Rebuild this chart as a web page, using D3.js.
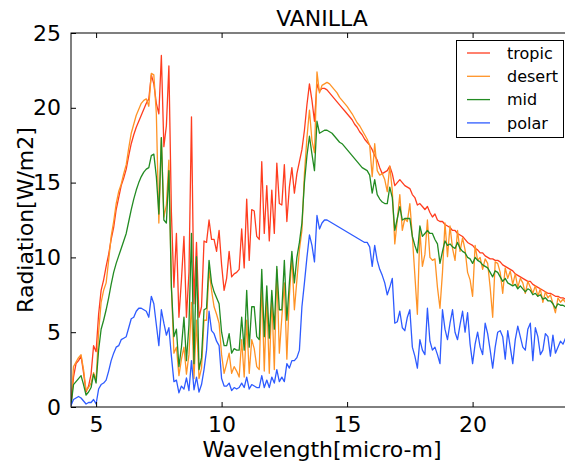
<!DOCTYPE html>
<html>
<head>
<meta charset="utf-8">
<script src="https://cdn.jsdelivr.net/npm/d3@7/dist/d3.min.js"></script>
<style>
  html, body { margin: 0; padding: 0; background: #fff; }
  svg { display: block; font-family: "DejaVu Sans", sans-serif; }
</style>
</head>
<body>
<svg id="chart" width="565" height="465"></svg>
<script>
// Spectral grid (micro-m)
const wavelength = [
  4.0,4.1,4.2,4.3,4.4,4.5,4.6,4.7,4.8,4.9,
  5.0,5.1,5.2,5.3,5.4,5.5,5.6,5.7,5.8,5.9,
  6.0,6.1,6.2,6.3,6.4,6.5,6.6,6.7,6.8,6.9,
  7.0,7.1,7.2,7.3,7.4,7.5,7.6,7.7,7.8,7.9,
  8.0,8.1,8.2,8.3,8.4,8.5,8.6,8.7,8.8,8.9,
  9.0,9.1,9.2,9.3,9.4,9.5,9.6,9.7,9.8,9.9,
  10.0,10.1,10.2,10.3,10.4,10.5,10.6,10.7,10.8,10.9,
  11.0,11.1,11.2,11.3,11.4,11.5,11.6,11.7,11.8,11.9,
  12.0,12.1,12.2,12.3,12.4,12.5,12.6,12.7,12.8,12.9,
  13.0,13.1,13.2,13.3,13.4,13.5,13.6,13.7,13.8,13.9,
  14.0,14.1,14.2,14.3,14.4,14.5,14.6,14.7,14.8,14.9,
  15.0,15.1,15.2,15.3,15.4,15.5,15.6,15.7,15.8,15.9,
  16.0,16.1,16.2,16.3,16.4,16.5,16.6,16.7,16.8,16.9,
  17.0,17.1,17.2,17.3,17.4,17.5,17.6,17.7,17.8,17.9,
  18.0,18.1,18.2,18.3,18.4,18.5,18.6,18.7,18.8,18.9,
  19.0,19.1,19.2,19.3,19.4,19.5,19.6,19.7,19.8,19.9,
  20.0,20.1,20.2,20.3,20.4,20.5,20.6,20.7,20.8,20.9,
  21.0,21.1,21.2,21.3,21.4,21.5,21.6,21.7,21.8,21.9,
  22.0,22.1,22.2,22.3,22.4,22.5,22.6,22.7,22.8,22.9,
  23.0,23.1,23.2,23.3,23.4,23.5,23.6,23.7,23.8
];

// Radiation [W/m2] per atmosphere profile
const tropic = [
  0.1,2.0,2.9,3.1,3.4,2.3,1.0,1.4,2.2,4.1,
  3.7,6.2,7.8,8.5,9.4,10.2,11.2,12.0,13.2,14.0,
  14.8,15.3,15.9,16.8,17.6,18.2,18.7,19.1,19.5,19.9,
  20.3,20.6,22.2,21.6,20.3,19.6,23.5,17.4,18.8,22.8,
  13.0,8.0,11.6,6.0,8.5,11.4,6.0,9.0,19.4,6.9,
  11.0,6.0,6.7,11.1,11.0,12.5,11.2,11.2,10.4,11.8,
  9.5,7.8,8.6,10.4,8.7,8.9,9.0,9.2,11.9,9.3,
  13.9,9.8,13.2,13.1,11.4,11.2,16.4,11.6,14.8,11.1,
  14.5,11.6,16.3,13.6,13.5,16.2,12.4,14.7,16.0,14.3,
  15.6,16.4,17.2,18.5,20.2,21.6,20.5,19.1,21.6,21.1,
  21.3,21.3,21.2,21.0,20.8,20.6,20.4,20.2,20.0,19.8,
  19.6,19.4,19.2,18.9,18.7,18.4,18.2,17.9,17.7,17.5,
  17.2,16.8,16.5,16.0,15.6,15.7,15.8,16.1,15.6,14.8,
  15.0,15.2,15.0,14.8,14.7,14.6,14.2,14.0,13.5,13.6,
  13.4,13.2,13.4,13.0,12.7,12.9,12.5,12.4,12.4,12.2,
  12.1,12.0,11.8,11.8,11.6,11.5,11.4,11.2,11.0,10.9,
  10.8,10.6,10.5,10.3,10.3,10.1,10.0,9.9,9.9,9.8,
  9.8,9.7,9.5,9.4,9.3,9.2,9.1,8.9,8.8,8.7,
  8.6,8.5,8.4,8.4,8.2,8.1,8.0,7.9,7.8,7.7,
  7.6,7.6,7.5,7.4,7.4,7.3,7.3,7.2,7.2
];
const desert = [
  0.1,2.7,3.0,3.3,3.5,2.5,1.1,1.3,1.6,2.3,
  1.8,5.0,7.0,7.8,8.3,9.8,11.4,12.4,13.6,14.4,
  14.9,15.6,16.2,17.3,18.3,18.9,19.5,19.9,20.3,20.5,
  20.6,20.1,22.3,22.2,19.6,12.3,18.0,12.7,13.5,16.5,
  8.0,3.6,4.0,2.1,3.2,4.0,2.2,3.5,7.0,1.9,
  5.8,1.9,2.6,5.8,5.8,9.2,7.8,6.7,6.2,5.6,
  3.5,2.25,2.9,3.6,2.25,2.7,2.4,2.0,4.5,2.0,
  5.8,2.25,4.5,3.9,2.7,2.5,8.3,2.4,7.4,2.25,
  7.4,2.5,9.2,3.6,6.0,8.3,3.2,7.4,10.05,6.5,
  8.5,10.5,11.8,15.6,18.0,19.85,17.8,17.0,22.4,21.0,
  21.5,21.6,21.7,21.6,21.4,21.2,21.0,20.7,20.5,20.3,
  20.1,19.85,19.6,19.3,19.0,18.8,18.5,18.2,17.9,17.5,
  15.4,17.6,15.8,15.5,15.6,15.2,14.4,16.1,14.5,10.9,
  12.5,14.2,11.8,12.6,12.4,13.6,11.4,8.8,6.2,11.8,
  9.4,10.2,12.5,10.0,9.8,9.9,8.0,6.6,9.0,12.3,
  10.05,12.1,10.6,9.8,11.8,10.4,11.3,10.5,9.0,8.5,
  7.4,10.8,9.8,10.0,9.2,9.9,9.6,8.0,6.0,9.7,
  9.6,9.0,7.6,9.3,8.6,9.1,8.2,8.9,8.0,8.6,
  8.3,7.6,8.4,8.0,7.6,8.1,7.4,7.9,7.0,7.7,
  7.3,7.5,6.9,6.3,7.3,7.0,7.2,7.0,7.1
];
const mid = [
  0.1,1.5,1.7,1.9,2.1,1.5,0.8,1.0,1.3,2.2,
  1.6,3.8,5.2,5.8,6.5,7.3,8.2,9.0,9.6,10.1,
  10.6,11.1,11.6,12.4,13.2,13.9,14.5,15.0,15.4,15.7,
  15.9,16.0,16.8,16.9,15.4,12.9,18.0,12.5,12.3,15.8,
  8.0,4.7,5.2,2.7,4.0,6.0,3.1,5.5,11.6,2.9,
  10.05,2.5,3.3,6.5,6.6,9.8,8.3,7.7,7.3,6.9,
  5.0,4.1,4.1,4.9,3.6,3.9,3.8,3.8,6.0,3.8,
  7.8,4.0,6.7,6.7,4.7,4.5,9.2,4.7,8.1,4.6,
  7.8,5.2,9.4,6.5,6.5,9.8,5.8,8.3,10.4,8.3,
  10.0,11.0,12.3,15.0,16.8,18.1,16.9,15.8,19.1,18.3,
  18.4,18.5,18.5,18.4,18.3,18.1,17.9,17.7,17.6,17.4,
  17.2,17.0,16.8,16.6,16.4,16.2,16.0,15.9,15.8,15.5,
  14.3,15.2,14.2,13.9,13.7,13.6,13.6,14.7,14.0,11.8,
  12.6,13.4,12.5,12.6,12.6,12.6,11.4,10.8,10.3,12.1,
  11.4,11.6,11.8,11.6,11.6,11.2,10.9,9.6,10.4,11.1,
  10.8,10.9,10.7,10.6,11.0,10.6,10.4,10.3,10.0,9.9,
  9.6,10.0,9.8,9.7,9.5,9.4,9.3,9.0,8.7,9.1,
  9.0,8.7,8.4,8.6,8.3,8.2,8.1,8.2,7.9,8.1,
  7.9,7.7,7.9,7.8,7.5,7.6,7.4,7.5,7.2,7.3,
  7.1,7.1,6.9,6.6,6.9,6.8,6.8,6.7,6.65
];
const polar = [
  0.1,0.5,0.6,0.7,0.6,0.4,0.2,0.3,0.3,0.5,
  0.2,1.2,1.5,1.6,1.8,2.4,3.1,3.6,4.0,4.1,
  4.5,4.6,4.7,5.3,5.9,6.0,6.4,6.6,6.6,6.5,
  6.4,6.0,7.4,6.9,5.5,4.1,6.5,5.6,4.8,5.3,
  3.4,1.7,1.8,0.95,1.4,1.2,1.95,1.1,3.1,1.15,
  2.0,1.0,1.5,2.5,3.8,6.4,5.1,4.9,4.4,4.1,
  1.9,1.4,1.4,1.6,1.1,1.3,1.2,1.3,1.6,1.3,
  2.0,1.2,1.5,1.4,1.3,1.3,2.1,1.3,1.8,1.3,
  2.0,1.6,2.5,1.7,2.0,1.7,2.9,2.6,3.1,3.1,
  3.3,3.8,6.7,8.3,10.0,11.5,10.8,9.7,12.8,11.9,
  12.3,12.5,12.5,12.4,12.3,12.2,12.1,12.0,11.9,11.8,
  11.7,11.6,11.5,11.4,11.3,11.2,11.1,11.0,11.0,10.7,
  9.4,10.8,9.8,9.2,8.8,8.3,7.5,8.0,8.6,5.6,
  5.7,6.4,5.3,5.1,6.0,6.5,4.0,3.4,2.6,4.5,
  3.8,3.5,6.6,4.4,3.8,4.0,3.5,2.9,6.5,5.2,
  4.5,5.6,6.5,5.0,4.5,5.5,6.4,5.0,6.3,4.2,
  2.9,4.2,5.0,4.0,3.5,5.6,4.9,3.8,2.6,4.0,
  5.0,5.1,4.7,3.2,5.1,4.0,2.9,4.5,5.4,4.7,
  4.0,3.8,5.2,5.6,3.1,5.3,4.7,3.5,3.8,4.9,
  4.7,3.4,4.8,3.6,4.0,4.4,4.2,4.6,4.5
];

const seriesNames = ["tropic", "desert", "mid", "polar"];
const seriesValues = [tropic, desert, mid, polar];
const seriesColors = ["#ff3d1f", "#ff9326", "#228b22", "#2e5bff"];

const xTicks = [5, 10, 15, 20];
const yTicks = [0, 5, 10, 15, 20, 25];

const titleText = "VANILLA";
const xLabel = "Wavelength[micro-m]";
const yLabel = "Radiation[W/m2]";

// Layout
const plot = { left: 71, right: 573, top: 33, bottom: 407 };

const svg = d3.select("#chart");

const x = d3.scaleLinear().domain([4, 24]).range([plot.left, plot.right]);
const y = d3.scaleLinear().domain([0, 25]).range([plot.bottom, plot.top]);

svg.append("defs").append("clipPath").attr("id", "plotClip")
  .append("rect")
  .attr("x", plot.left).attr("y", plot.top)
  .attr("width", plot.right - plot.left).attr("height", plot.bottom - plot.top);

// Spectra
const line = d3.line()
  .x((d, i) => x(wavelength[i]))
  .y(d => y(d));

const lines = svg.append("g").attr("clip-path", "url(#plotClip)");
seriesValues.forEach((vals, k) => {
  lines.append("path")
    .datum(vals)
    .attr("fill", "none")
    .attr("stroke", seriesColors[k])
    .attr("stroke-width", 1.3)
    .attr("stroke-linejoin", "round")
    .attr("d", line);
});

// Axes frame
svg.append("rect")
  .attr("x", plot.left).attr("y", plot.top)
  .attr("width", plot.right - plot.left).attr("height", plot.bottom - plot.top)
  .attr("fill", "none").attr("stroke", "#000").attr("stroke-width", 1);

const tickLen = 5;
const fontSize = 22;

// Bottom axis: inward ticks on both bottom and top spines
const xAxisBottom = d3.axisBottom(x).tickValues(xTicks).tickSize(-tickLen).tickPadding(10).tickFormat(d3.format("d"));
const gxb = svg.append("g").attr("transform", `translate(0,${plot.bottom})`).call(xAxisBottom);
gxb.select(".domain").remove();
gxb.selectAll("text").attr("font-size", fontSize).attr("font-family", "DejaVu Sans").attr("fill", "#000").attr("dy", "0.66em");

const xAxisTop = d3.axisTop(x).tickValues(xTicks).tickSize(-tickLen).tickFormat("");
const gxt = svg.append("g").attr("transform", `translate(0,${plot.top})`).call(xAxisTop);
gxt.select(".domain").remove();

// Left axis
const yAxisLeft = d3.axisLeft(y).tickValues(yTicks).tickSize(-tickLen).tickPadding(10).tickFormat(d3.format("d"));
const gyl = svg.append("g").attr("transform", `translate(${plot.left},0)`).call(yAxisLeft);
gyl.select(".domain").remove();
gyl.selectAll("text").attr("font-size", fontSize).attr("font-family", "DejaVu Sans").attr("fill", "#000");

svg.selectAll(".tick line").attr("stroke", "#000");

// Title and axis labels
svg.append("text")
  .attr("x", (plot.left + plot.right) / 2).attr("y", 26)
  .attr("text-anchor", "middle").attr("font-size", fontSize)
  .text(titleText);

svg.append("text")
  .attr("x", (plot.left + plot.right) / 2).attr("y", 457)
  .attr("text-anchor", "middle").attr("font-size", fontSize)
  .text(xLabel);

svg.append("text")
  .attr("transform", `translate(33,${(plot.top + plot.bottom) / 2}) rotate(-90)`)
  .attr("text-anchor", "middle").attr("font-size", fontSize)
  .text(yLabel);

// Legend
const legend = svg.append("g");
legend.append("rect")
  .attr("x", 456.5).attr("y", 40.5).attr("width", 107).attr("height", 97)
  .attr("fill", "#fff").attr("stroke", "#000").attr("stroke-width", 1);
seriesNames.forEach((name, k) => {
  const ly = 53 + k * 23.3;
  legend.append("line")
    .attr("x1", 467).attr("x2", 490).attr("y1", ly).attr("y2", ly)
    .attr("stroke", seriesColors[k]).attr("stroke-width", 1.3);
  legend.append("text")
    .attr("x", 507).attr("y", ly).attr("dy", "0.35em")
    .attr("font-size", 16)
    .text(name);
});
</script>
</body>
</html>
